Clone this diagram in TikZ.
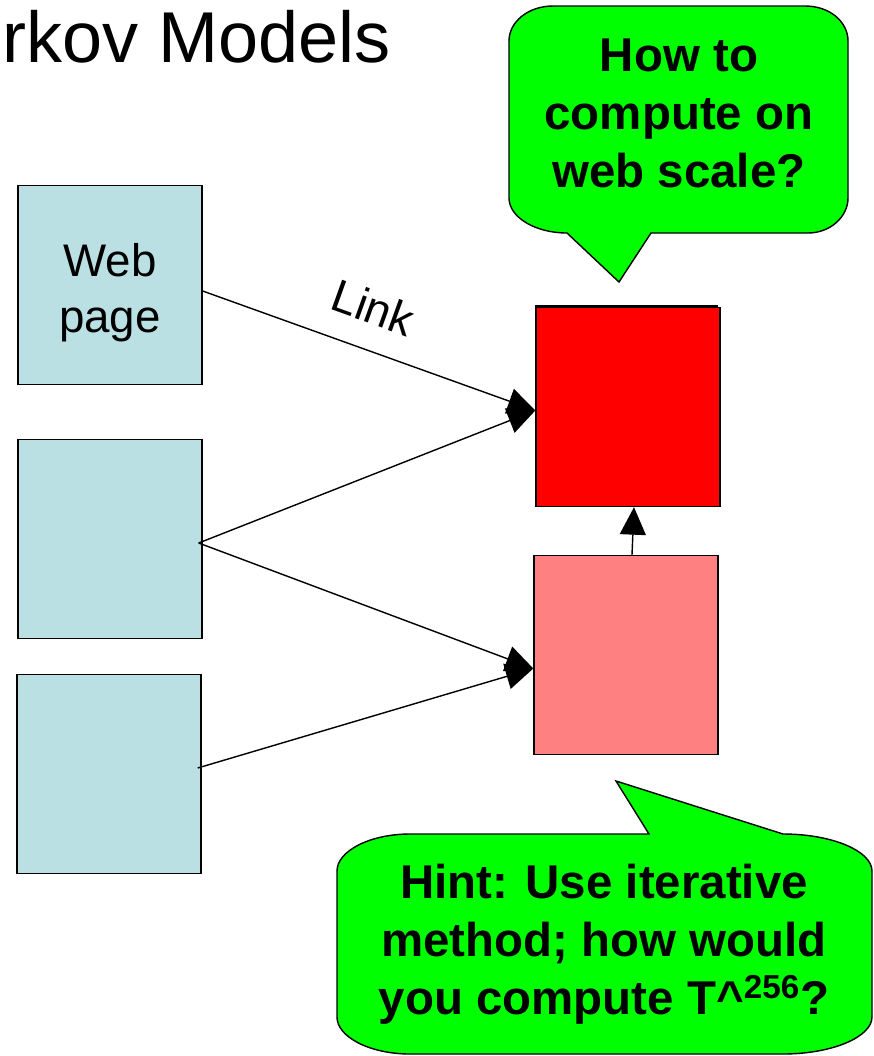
\documentclass[tikz,border=0pt]{standalone}
\usepackage{fontspec}
\setmainfont{Liberation Sans}
\usetikzlibrary{arrows.meta}

\definecolor{pageblue}{RGB}{187,224,228}
\definecolor{rankred}{RGB}{255,0,0}
\definecolor{rankpink}{RGB}{255,128,128}
\definecolor{bubblegreen}{RGB}{0,255,0}

\tikzset{
  webpage/.style={draw, line width=0.8pt, minimum width=3.68cm, minimum height=3.98cm, inner sep=0pt},
  link/.style={line width=0.8pt, -{Triangle[length=0.55cm, width=0.52cm]}},
  bubble/.style={draw, line width=0.8pt, fill=bubblegreen},
  bubbletext/.style={align=center, inner sep=0pt, font=\fontsize{27}{33}\selectfont\bfseries}
}

\begin{document}
\begin{tikzpicture}[x=0.02cm, y=-0.02cm]
  \useasboundingbox (0,0) rectangle (874,1056);
  \node[anchor=base west, inner sep=0pt, font=\fontsize{41}{48}\selectfont] (title) at (2,62) {rkov Models};

  % pages that link in
  \node[webpage, fill=pageblue,
    label={[align=center, yshift=-0.16cm, font=\fontsize{26}{32}\selectfont]center:{Web\\page}}] (web1) at (110,285) {};
  \node[webpage, fill=pageblue] (web2) at (110,539) {};
  \node[webpage, fill=pageblue] (web3) at (109,774) {};

  % pages being ranked
  \draw[fill=black] (535,305) rectangle (717,503);
  \node[webpage, fill=rankred] (red) at (628,407) {};
  \node[webpage, fill=rankpink] (pink) at (626,655) {};

  % links
  \draw[link] ([yshift=-0.12cm]web1.east) -- ([yshift=-0.07cm]red.west)
    node[sloped, above=0.5cm, pos=0.47, inner sep=0pt, font=\fontsize{26}{32}\selectfont] (linklbl) {Link};
  \draw[link] ([xshift=-0.08cm, yshift=-0.08cm]web2.east) -- ([yshift=-0.07cm]red.west);
  \draw[link] ([xshift=-0.08cm, yshift=-0.08cm]web2.east) -- ([yshift=-0.27cm]pink.west);
  \draw[link] ([xshift=-0.08cm, yshift=0.12cm]web3.east) -- ([yshift=-0.27cm]pink.west);
  \draw[link] ([xshift=0.12cm]pink.north) -- ([xshift=0.12cm]red.south);

  % speech bubble at the top
  \draw[bubble] (567,233) -- (619,282) -- (651,233) -- (808,233)
    .. controls (830,233) and (848,217) .. (848,198) -- (848,41)
    .. controls (848,22) and (830,6) .. (805,6) -- (553,6)
    .. controls (528,6) and (509,22) .. (509,41) -- (509,198)
    .. controls (509,217) and (535,233) .. (567,233) -- cycle;
  \node[bubbletext] (howto) at (679,113) {How to\\compute on\\web scale?};

  % speech bubble at the bottom
  \draw[bubble] (649,834) -- (616,781) -- (783,834)
    .. controls (832,834) and (872,851) .. (872,871) -- (872,1017)
    .. controls (872,1037) and (832,1054) .. (783,1054) -- (410,1054)
    .. controls (370,1054) and (337,1037) .. (337,1017) -- (337,871)
    .. controls (337,851) and (370,834) .. (410,834) -- cycle;
  \node[bubbletext] (hint) at (604,944)
    {Hint: Use iterative\\method; how would\\you compute T\textasciicircum\textsuperscript{256}?};
\end{tikzpicture}
\end{document}
